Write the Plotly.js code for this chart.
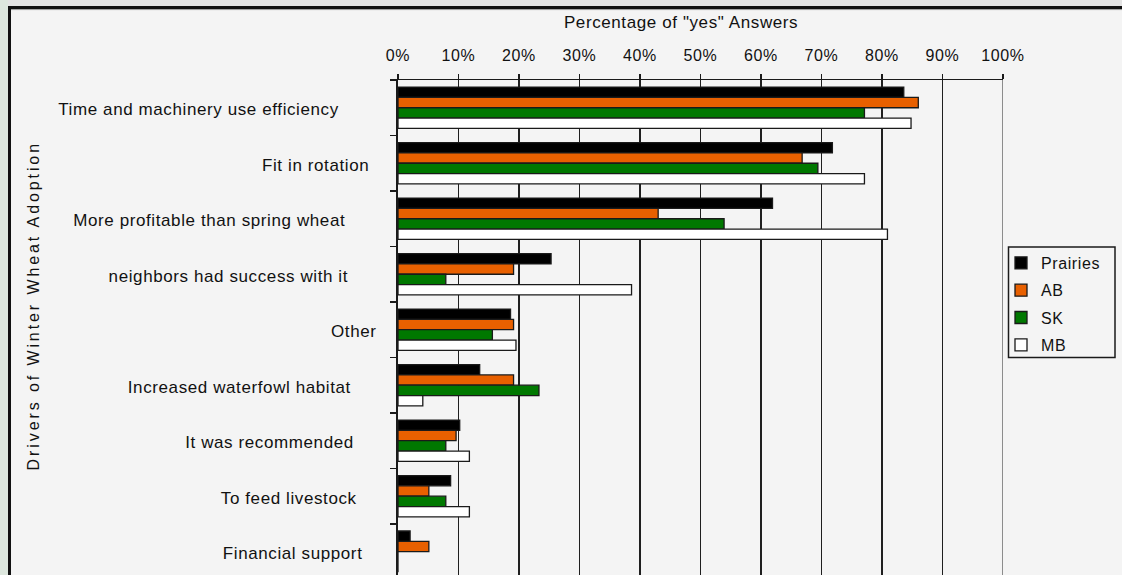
<!DOCTYPE html>
<html><head><meta charset="utf-8">
<script src="https://cdn.plot.ly/plotly-3.0.1.min.js"></script>
<style>
html,body{margin:0;padding:0;background:#f4f4f4;overflow:hidden;}
#chart{width:1122px;height:575px;}
#chart svg text{letter-spacing:0.6px;}
#chart .annotation[data-index="0"] text{letter-spacing:2.9px;}
</style></head><body><div id="chart"></div>
<script>
// ---- data ----
const categories = ["Time and machinery use efficiency","Fit in rotation","More profitable than spring wheat","neighbors had success with it","Other","Increased waterfowl habitat","It was recommended","To feed livestock","Financial support"];
const seriesNames = ["Prairies","AB","SK","MB"];
const prairies = [83.6, 71.8, 61.9, 25.3, 18.6, 13.5, 10.2, 8.7, 2.0];
const ab       = [86.0, 66.8, 43.0, 19.1, 19.1, 19.1, 9.6, 5.1, 5.1];
const sk       = [77.1, 69.4, 53.9, 7.9, 15.6, 23.3, 7.9, 7.9, 0];
const mb       = [84.8, 77.1, 80.9, 38.6, 19.5, 4.1, 11.8, 11.8, 0];
const xTickVals   = [0,10,20,30,40,50,60,70,80,90,100];
const xTickLabels = ["0%","10%","20%","30%","40%","50%","60%","70%","80%","90%","100%"];
const xTitle = 'Percentage of "yes" Answers';
const yTitle = 'Drivers of Winter Wheat Adoption';

// ---- styles / layout helpers ----
const seriesColors = ["#000000","#e86000","#007800","#ffffff"];
const labelRightPx = [338, 368, 345, 347, 376, 350, 353, 356, 362];
const W=1122, H=575, L=398, R=119, T=80, B=0;
const pw=W-L-R, ph=H-T-B;
const px = x => (x-L)/pw;
const py = y => (H-B-y)/ph;
const FONT = '"Liberation Sans", Arial, Helvetica, sans-serif';
const TXT = '#111111';

const seriesValues = [prairies, ab, sk, mb];
const traces = seriesValues.map((vals,i)=>({
  type:'bar', orientation:'h', name:seriesNames[i],
  x: vals, y: categories,
  legendgroup: 'g'+i,
  marker:{color:seriesColors[i], line:{color:'#1a1a1a', width:1.3}},
  hoverinfo:'x+y'
}));

const annotations = [];
annotations.push({text:yTitle, xref:'paper', yref:'paper', x:px(33), y:py(306),
  textangle:-90, showarrow:false, xanchor:'center', yanchor:'middle',
  font:{family:FONT, size:16, color:TXT}});
annotations.push({text:xTitle, xref:'paper', yref:'paper', x:px(681), y:py(23),
  showarrow:false, xanchor:'center', yanchor:'middle',
  font:{family:FONT, size:17, color:TXT}});
categories.forEach((c,i)=>{
  annotations.push({text:c, xref:'paper', yref:'y', x:px(labelRightPx[i]), y:c,
    showarrow:false, xanchor:'right', yanchor:'middle', align:'right', yshift:-2, xshift:3,
    font:{family:FONT, size:17, color:TXT}});
});

const shapes = [
  {type:'rect', xref:'paper', yref:'paper', x0:px(0), x1:px(W), y0:py(0), y1:py(6), fillcolor:'#e3e3e3', line:{width:0}},
  {type:'rect', xref:'paper', yref:'paper', x0:px(0), x1:px(8), y0:py(0), y1:py(H), fillcolor:'#dde7de', line:{width:0}},
  {type:'rect', xref:'paper', yref:'paper', x0:px(8), x1:px(W), y0:py(6), y1:py(9), fillcolor:'#111111', line:{width:0}},
  {type:'rect', xref:'paper', yref:'paper', x0:px(8), x1:px(11), y0:py(6), y1:py(H), fillcolor:'#111111', line:{width:0}},
  {type:'line', xref:'paper', yref:'paper', x0:px(11), x1:px(W), y0:py(9.6), y1:py(9.6), line:{color:'#9a9a9a', width:1}},
  {type:'line', xref:'x', yref:'paper', x0:100, x1:100, y0:0, y1:1, line:{color:'#8c8c8c', width:2}},
  // legend frame
  {type:'rect', xref:'paper', yref:'paper', x0:px(1008.5), x1:px(1115), y0:py(247), y1:py(357.5), fillcolor:'rgba(0,0,0,0)', line:{color:'#1a1a1a', width:1.5}}
];

const layout = {
  width:W, height:H,
  margin:{l:L, r:R, t:T, b:B, pad:0},
  paper_bgcolor:'#f4f4f4', plot_bgcolor:'#f4f4f4',
  font:{family:FONT, size:16, color:TXT},
  barmode:'group', bargap:0.255, bargroupgap:0,
  showlegend:true,
  legend:{x:px(1001), y:py(246), xanchor:'left', yanchor:'top',
    bgcolor:'rgba(0,0,0,0)', borderwidth:0,
    font:{family:FONT, size:16, color:TXT}, tracegroupgap:3.5, traceorder:'grouped'},
  xaxis:{side:'top', range:[0,100], tickvals:xTickVals, ticktext:xTickLabels,
    ticks:'outside', ticklen:5, tickwidth:1.5, tickcolor:'#1a1a1a',
    showgrid:true, gridcolor:'#1f1f1f', gridwidth:1.6,
    showline:true, linecolor:'#1a1a1a', linewidth:1.5, zeroline:false,
    ticklabelstandoff:6, tickfont:{family:FONT, size:16, color:TXT}, fixedrange:true},
  yaxis:{type:'category', categoryorder:'array', categoryarray:categories,
    range:[8.42,-0.5], showticklabels:false,
    tickson:'boundaries', ticks:'outside', ticklen:6, tickwidth:1.5, tickcolor:'#1a1a1a',
    showgrid:false, showline:true, linecolor:'#1a1a1a', linewidth:2, zeroline:false, fixedrange:true},
  annotations:annotations,
  shapes:shapes
};

Plotly.newPlot('chart', traces, layout, {displayModeBar:false, staticPlot:true});
</script></body></html>
